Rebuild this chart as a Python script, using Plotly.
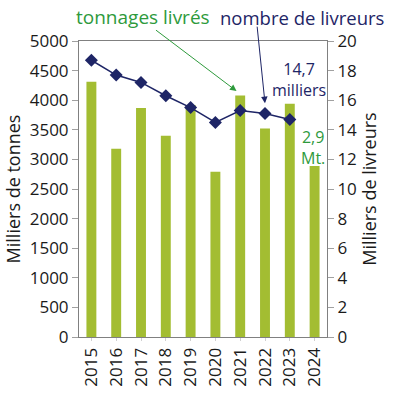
import plotly.graph_objects as go

annees = [2015, 2016, 2017, 2018, 2019, 2020, 2021, 2022, 2023, 2024]
tonnages = [4310, 3180, 3870, 3400, 3920, 2790, 4080, 3520, 3940, 2890]
livreurs = [18.7, 17.7, 17.2, 16.3, 15.5, 14.5, 15.3, 15.1, 14.7]

vert = '#a3bd32'
vert_texte = '#2e9a3c'
bleu = '#1e2566'

fig = go.Figure()

fig.add_trace(go.Bar(
    x=annees, y=tonnages,
    marker=dict(color=vert, line=dict(width=0)),
    width=0.4,
    name='tonnages livrés',
    yaxis='y'
))

fig.add_trace(go.Scatter(
    x=annees[:len(livreurs)], y=livreurs,
    mode='lines+markers',
    line=dict(width=1.5, color=bleu),
    marker=dict(symbol='diamond', size=10, color=bleu),
    name='nombre de livreurs',
    yaxis='y2'
))

fig.update_layout(
    xaxis=dict(
        range=[annees[0] - 0.5, annees[-1] + 0.5],
        tickvals=annees, ticktext=[str(a) for a in annees],
        tickangle=-90,
        showline=True, mirror=True,
        linecolor='#808080',
        ticks='outside', ticklen=3, tickcolor='#d0d0d0',
        showgrid=False, zeroline=False,
        tickfont=dict(size=17),
        automargin=False
    ),
    yaxis=dict(
        range=[0, 5000], dtick=500,
        title=dict(text='Milliers de tonnes', font=dict(size=18), standoff=4),
        showline=True, linecolor='#808080',
        ticks='outside', ticklen=6, tickcolor='#a0a0a0',
        showgrid=False, zeroline=False,
        tickfont=dict(size=17),
        automargin=False
    ),
    yaxis2=dict(
        range=[0, 20], dtick=2,
        overlaying='y', side='right',
        title=dict(text='Milliers de livreurs', font=dict(size=18), standoff=6),
        showline=True, linecolor='#808080',
        ticks='outside', ticklen=6, tickcolor='#a0a0a0',
        showgrid=False, zeroline=False,
        tickfont=dict(size=17),
        automargin=False
    ),
    showlegend=False,
    margin=dict(l=79, r=73, t=41, b=59),
    width=400, height=396,
    plot_bgcolor='white',
    paper_bgcolor='white',
    font=dict(family='Open Sans', size=16, color='#1a1a1a'),
)

# flèche verte : tonnages livrés -> barre 2021
fig.add_annotation(
    x=2020.85, y=4155, xref='x', yref='y',
    ax=-82, ay=-62,
    text='', showarrow=True, arrowhead=2, arrowsize=1.3, arrowwidth=1,
    arrowcolor=vert_texte
)
fig.add_annotation(
    x=0.26, y=1.081, xref='paper', yref='paper', xanchor='center', yanchor='middle',
    text='tonnages livrés', showarrow=False,
    font=dict(size=19, color=vert_texte)
)
# flèche bleue : nombre de livreurs -> point 2022
fig.add_annotation(
    x=2022, y=15.8, xref='x', yref='y2',
    ax=-8, ay=-78,
    text='', showarrow=True, arrowhead=2, arrowsize=1.3, arrowwidth=1,
    arrowcolor=bleu
)
fig.add_annotation(
    x=0.90, y=1.081, xref='paper', yref='paper', xanchor='center', yanchor='middle',
    text='nombre de livreurs', showarrow=False,
    font=dict(size=18.5, color=bleu)
)
fig.add_annotation(
    x=0.887, y=0.87, xref='paper', yref='paper', xanchor='center', yanchor='middle',
    text='14,7<br>milliers', showarrow=False,
    font=dict(size=16, color=bleu)
)
fig.add_annotation(
    x=0.944, y=0.64, xref='paper', yref='paper', xanchor='center', yanchor='middle',
    text='2,9<br>Mt.', showarrow=False,
    font=dict(size=16, color=vert_texte)
)

# pas de marge autour du graphique dans la page, pas de barre d'outils
fig.write_html('out.html', config={'displayModeBar': False},
               post_script="document.body.style.margin='0';")
